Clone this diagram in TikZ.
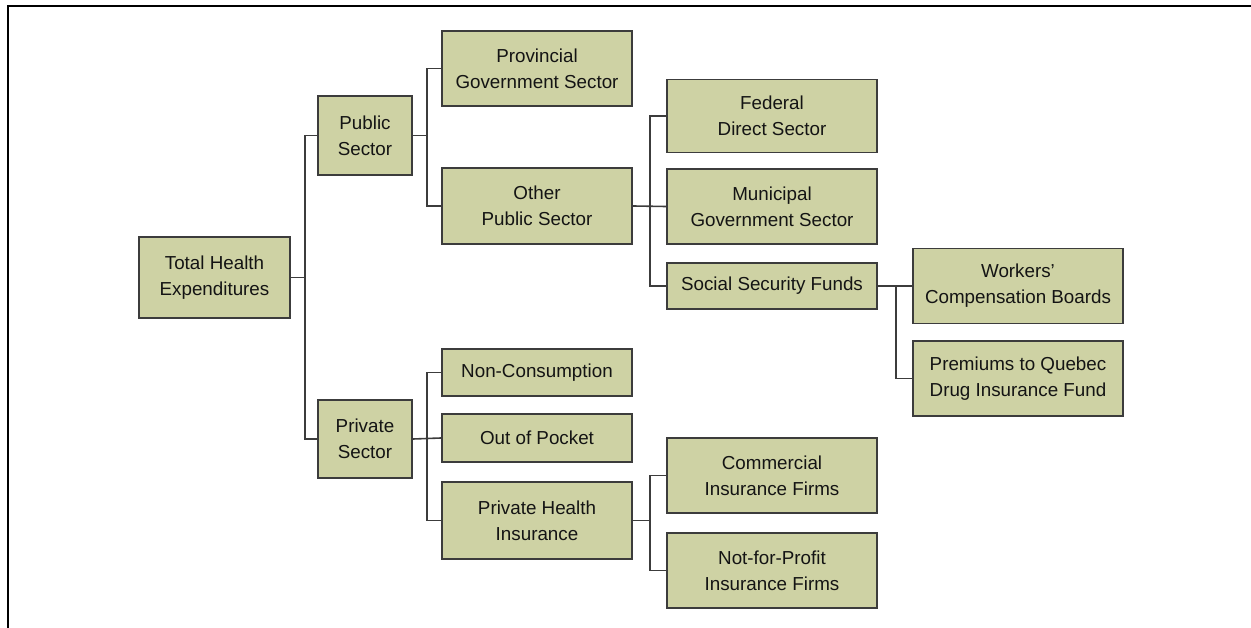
\documentclass[tikz,border=0pt]{standalone}
\usepackage{fontspec}
\setmainfont{Liberation Sans}
\definecolor{boxfill}{RGB}{206,210,164}
\definecolor{boxline}{RGB}{60,60,60}
\definecolor{txt}{RGB}{20,20,20}
\begin{document}
\begin{tikzpicture}[x=1pt,y=-1pt,
  box/.style={draw=boxline,fill=boxfill,line width=1.8pt,align=center,
    text=txt,inner sep=0pt,font=\fontsize{18.8}{26}\selectfont},
  conn/.style={draw=boxline,line width=1.6pt}]
\useasboundingbox (0,0) rectangle (1251,628);
\draw[line width=2.2pt] (8,628) -- (8,6) -- (1251,6);
% level 0
\node[box,minimum width=151pt,minimum height=81pt] (root) at (214.5,277.5) {Total Health\\Expenditures};
% level 1
\node[box,minimum width=94pt,minimum height=79pt] (pub) at (365,135.5) {Public\\Sector};
\node[box,minimum width=94pt,minimum height=78pt] (priv) at (365,439) {Private\\Sector};
% level 2
\node[box,minimum width=190pt,minimum height=75pt] (prov) at (537,68.5) {Provincial\\Government Sector};
\node[box,minimum width=190pt,minimum height=76pt] (other) at (537,206) {Other\\Public Sector};
\node[box,minimum width=190pt,minimum height=47pt] (noncons) at (537,372.5) {Non-Consumption};
\node[box,minimum width=190pt,minimum height=48pt] (oop) at (537,438) {Out of Pocket};
\node[box,minimum width=190pt,minimum height=77pt] (phi) at (537,520.5) {Private Health\\Insurance};
% level 3
\node[box,minimum width=210pt,minimum height=73pt] (fed) at (772,116) {Federal\\Direct Sector};
\node[box,minimum width=210pt,minimum height=75pt] (mun) at (772,206.5) {Municipal\\Government Sector};
\node[box,minimum width=210pt,minimum height=46pt] (ssf) at (772,286) {Social Security Funds};
\node[box,minimum width=210pt,minimum height=75pt] (comm) at (772,475.5) {Commercial\\Insurance Firms};
\node[box,minimum width=210pt,minimum height=75pt] (nfp) at (772,570.5) {Not-for-Profit\\Insurance Firms};
% level 4
\node[box,minimum width=210pt,minimum height=75pt] (wcb) at (1018,286) {Workers’\\Compensation Boards};
\node[box,minimum width=210pt,minimum height=75pt] (prem) at (1018,378.5) {Premiums to Quebec\\Drug Insurance Fund};
% junction x positions
\coordinate (j1) at (305,0);
\coordinate (j2) at (427,0);
\coordinate (j3) at (650,0);
\coordinate (j4) at (896,0);
% connectors
\draw[conn] (root.east) -- (j1 |- root.east);
\draw[conn] (pub.west) -| (j1 |- priv.west) -- (priv.west);
\draw[conn] (pub.east) -- (j2 |- pub.east);
\draw[conn] (prov.west) -| (j2 |- other.west) -- (other.west);
\draw[conn] (other.east) -- (mun.west);
\draw[conn] (fed.west) -| (j3 |- ssf.west) -- (ssf.west);
\draw[conn] (ssf.east) -- (wcb.west);
\draw[conn] (wcb.west) -| (j4 |- prem.west) -- (prem.west);
\draw[conn] (priv.east) -- (oop.west);
\draw[conn] (noncons.west) -| (j2 |- phi.west) -- (phi.west);
\draw[conn] (phi.east) -- (j3 |- phi.east);
\draw[conn] (comm.west) -| (j3 |- nfp.west) -- (nfp.west);
\end{tikzpicture}
\end{document}
